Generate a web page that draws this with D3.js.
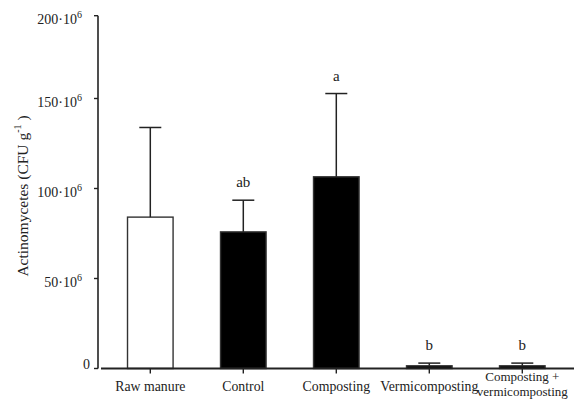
<!DOCTYPE html>
<html>
<head>
<meta charset="utf-8">
<script src="https://cdn.jsdelivr.net/npm/d3@7/dist/d3.min.js"></script>
<style>
  html, body { margin: 0; padding: 0; background: #fff; }
  svg { display: block; font-family: "Liberation Serif", "Times New Roman", serif; }
</style>
</head>
<body>
<svg id="chart" width="574" height="399"></svg>
<script>
// Actinomycete counts per treatment (CFU g-1, in millions)
const categories = ["Raw manure", "Control", "Composting", "Vermicomposting", "Composting + vermicomposting"];
const labelLines = [["Raw manure"], ["Control"], ["Composting"], ["Vermicomposting"], ["Composting +", "vermicomposting"]];
const means = [84.1, 75.9, 106.5, 1.5, 1.5];
const errors = [49.8, 17.6, 46.5, 1.5, 1.5];
const letters = ["", "ab", "a", "b", "b"];
const filled = [false, true, true, true, true];
const yTicks = [0, 50, 100, 150, 200];

const svg = d3.select("#chart");

const x = d3.scaleBand()
  .domain(categories)
  .range([103.8, 568.8])
  .paddingInner(0.51)
  .paddingOuter(0.255);

// The printed axis compresses the top interval slightly
const y = d3.scaleLinear()
  .domain([0, 150, 200])
  .range([368.5, 98.5, 15.7]);

const ink = "#222";

// Bars
svg.append("g").selectAll("rect")
  .data(categories)
  .join("rect")
  .attr("x", d => x(d))
  .attr("width", x.bandwidth())
  .attr("y", (d, i) => y(means[i]))
  .attr("height", (d, i) => y(0) - y(means[i]))
  .attr("fill", (d, i) => filled[i] ? "#000" : "#fff")
  .attr("stroke", "#333")
  .attr("stroke-width", 1.4);

// Error bars (upper only)
const eb = svg.append("g").attr("stroke", ink).attr("stroke-width", 1.5);
categories.forEach((c, i) => {
  const cx = x(c) + x.bandwidth() / 2;
  eb.append("line")
    .attr("x1", cx).attr("x2", cx)
    .attr("y1", y(means[i])).attr("y2", y(means[i] + errors[i]));
  eb.append("line")
    .attr("x1", cx - 11).attr("x2", cx + 11)
    .attr("y1", y(means[i] + errors[i])).attr("y2", y(means[i] + errors[i]));
});

// Significance letters
svg.append("g").selectAll("text")
  .data(categories)
  .join("text")
  .attr("x", d => x(d) + x.bandwidth() / 2)
  .attr("y", (d, i) => y(means[i] + errors[i]) - 13)
  .attr("text-anchor", "middle")
  .attr("font-size", 15)
  .attr("fill", ink)
  .text((d, i) => letters[i]);

// Y axis
const yAxis = svg.append("g").attr("transform", "translate(98,0)");
yAxis.append("line")
  .attr("x1", 0).attr("x2", 0)
  .attr("y1", y(200)).attr("y2", y(0))
  .attr("stroke", ink).attr("stroke-width", 1.6);
yTicks.forEach(t => {
  yAxis.append("line")
    .attr("x1", -4).attr("x2", 0)
    .attr("y1", y(t)).attr("y2", y(t))
    .attr("stroke", ink).attr("stroke-width", 1.4);
  const txt = yAxis.append("text")
    .attr("text-anchor", "end")
    .attr("font-size", 14)
    .attr("fill", ink);
  if (t === 0) {
    txt.attr("x", -8).attr("y", y(t)).text("0");
  } else {
    txt.attr("x", -21).attr("y", y(t) + 8).text(t + "·10");
    yAxis.append("text")
      .attr("x", -21).attr("y", y(t) + 2)
      .attr("font-size", 10)
      .attr("fill", ink)
      .text("6");
  }
});

// X axis
const xAxis = svg.append("g");
xAxis.append("line")
  .attr("x1", 101).attr("x2", 574)
  .attr("y1", y(0)).attr("y2", y(0))
  .attr("stroke", ink).attr("stroke-width", 2);
categories.forEach((c, i) => {
  const cx = x(c) + x.bandwidth() / 2;
  xAxis.append("line")
    .attr("x1", cx).attr("x2", cx)
    .attr("y1", y(0)).attr("y2", y(0) + 5)
    .attr("stroke", ink).attr("stroke-width", 1.4);
  const lines = labelLines[i];
  const multi = lines.length > 1;
  const t = xAxis.append("text")
    .attr("text-anchor", "middle")
    .attr("font-size", multi ? 13 : 13.8)
    .attr("fill", ink);
  const base = multi ? 381 : 391;
  lines.forEach((l, k) => {
    t.append("tspan").attr("x", cx).attr("y", base + k * 14.5).text(l);
  });
});

// Y axis title
const title = svg.append("text")
  .attr("transform", "translate(28,196) rotate(-90)")
  .attr("text-anchor", "middle")
  .attr("font-size", 15.5)
  .attr("fill", ink);
title.append("tspan").text("Actinomycetes (CFU g");
title.append("tspan").attr("font-size", 10).attr("dy", -7).text("-1");
title.append("tspan").attr("dy", 7).text(" )");
</script>
</body>
</html>
